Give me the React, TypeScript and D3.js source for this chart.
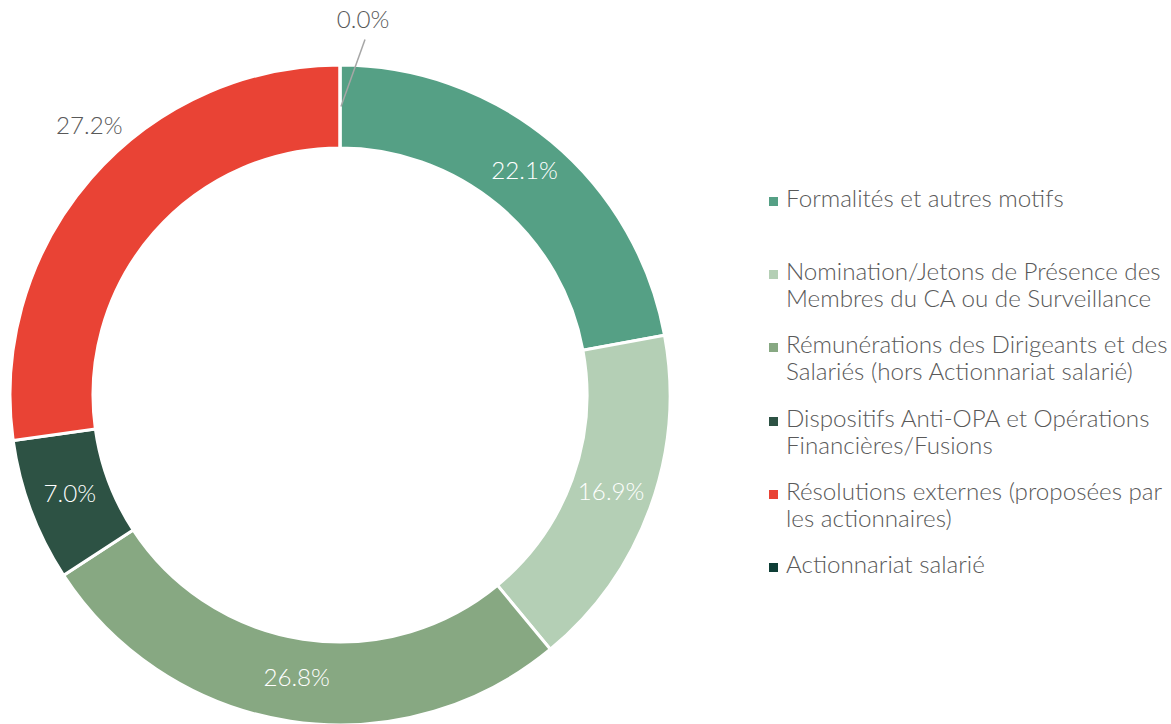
import React from "react";
import * as d3 from "d3";

const categories = [
  "Formalités et autres motifs",
  "Nomination/Jetons de Présence des Membres du CA ou de Surveillance",
  "Rémunérations des Dirigeants et des Salariés (hors Actionnariat salarié)",
  "Dispositifs Anti-OPA et Opérations Financières/Fusions",
  "Résolutions externes (proposées par les actionnaires)",
  "Actionnariat salarié",
];
const values = [22.1, 16.9, 26.8, 7.0, 27.2, 0.0];
const colors = ["#55A085", "#B4CFB5", "#87A882", "#2D5244", "#E94335", "#0E3E36"];
const legendLines = [
  ["Formalités et autres motifs"],
  ["Nomination/Jetons de Présence des", "Membres du CA ou de Surveillance"],
  ["Rémunérations des Dirigeants et des", "Salariés (hors Actionnariat salarié)"],
  ["Dispositifs Anti-OPA et Opérations", "Financières/Fusions"],
  ["Résolutions externes (proposées par", "les actionnaires)"],
  ["Actionnariat salarié"],
];
const legendY = [201, 274, 347, 421, 494, 567];

const W = 1171;
const H = 724;
const cx = 340;
const cy = 395;
const outerR = 330;
const innerR = 247;
const font = "Lato, 'Open Sans', sans-serif";
const gray = "#595959";
const fs = 24.2;

export default function App() {
  const pie = d3.pie<number>().sort(null).value((d) => d);
  const arcs = pie(values);
  const arcGen = d3.arc<d3.PieArcDatum<number>>().innerRadius(innerR).outerRadius(outerR);
  const midR = (innerR + outerR) / 2;
  const labelArc = d3.arc<d3.PieArcDatum<number>>().innerRadius(midR).outerRadius(midR);

  return (
    <svg width={W} height={H} style={{ position: "absolute", left: 0, top: 0, background: "#fff" }}>
      <g transform={`translate(${cx},${cy})`}>
        {arcs.map((a, i) => (
          <path key={i} d={arcGen(a) || ""} fill={colors[i]} stroke="#fff" strokeWidth={3} />
        ))}
        {arcs.map((a, i) => {
          const [x, y] = labelArc.centroid(a);
          const txt = values[i].toFixed(1) + "%";
          if (values[i] === 0) {
            const lx = x + 23;
            const ly = y - 67;
            return (
              <g key={"l" + i}>
                <line x1={x + 1} y1={y} x2={lx + 2} y2={ly} stroke="#A6A6A6" strokeWidth={1.5} />
                <text x={lx} y={ly - 18} fontFamily={font} fontWeight={300} fontSize={fs} fill={gray} textAnchor="middle" dominantBaseline="middle">
                  {txt}
                </text>
              </g>
            );
          }
          if (i === 4) {
            const ang = (a.startAngle + a.endAngle) / 2 + 0.1;
            const r = 366;
            return (
              <text key={"l" + i} x={r * Math.sin(ang)} y={-r * Math.cos(ang)} fontFamily={font} fontWeight={300} fontSize={fs} fill={gray} textAnchor="middle" dominantBaseline="middle">
                {txt}
              </text>
            );
          }
          return (
            <text key={"l" + i} x={x} y={y} fontFamily={font} fontWeight={300} fontSize={fs} fill="#fff" textAnchor="middle" dominantBaseline="middle">
              {txt}
            </text>
          );
        })}
      </g>
      <g>
        {categories.map((c, i) => (
          <g key={c}>
            <rect x={769} y={legendY[i] - 4} width={9} height={9} fill={colors[i]} />
            {legendLines[i].map((ln, j) => (
              <text key={j} x={786} y={legendY[i] + j * 27} fontFamily={font} fontWeight={300} fontSize={fs} fill={gray} dominantBaseline="middle">
                {ln}
              </text>
            ))}
          </g>
        ))}
      </g>
    </svg>
  );
}
